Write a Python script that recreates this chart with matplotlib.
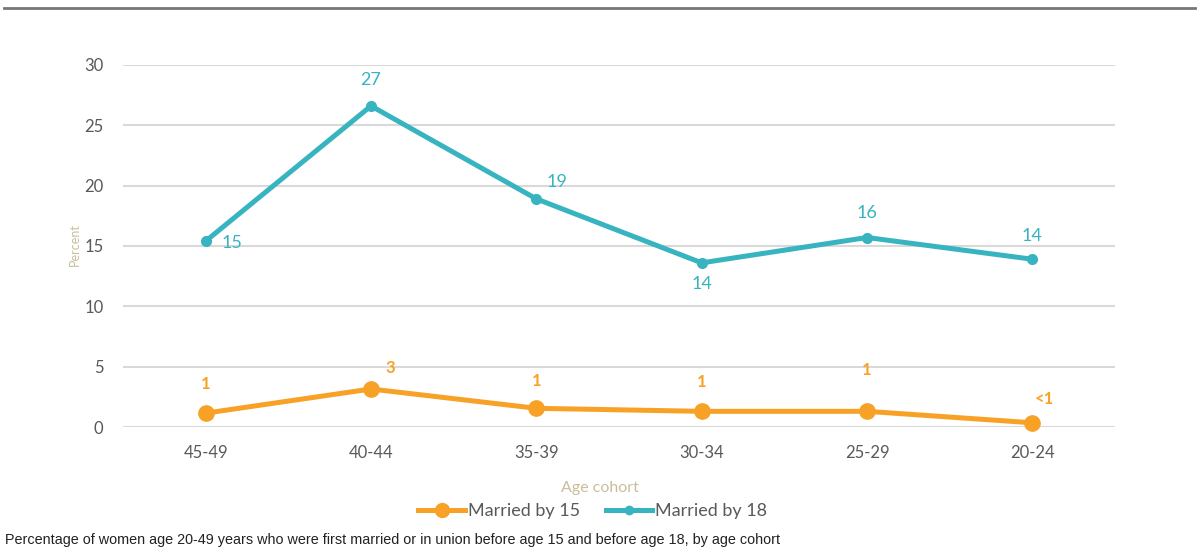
import numpy as np
import matplotlib
matplotlib.use("Agg")
import matplotlib.pyplot as plt
from matplotlib.lines import Line2D

plt.rcParams['font.family'] = ['Lato', 'DejaVu Sans']

cohorts = ['45-49', '40-44', '35-39', '30-34', '25-29', '20-24']
married_by_15 = [1.15, 3.15, 1.55, 1.3, 1.3, 0.35]
married_by_18 = [15.4, 26.6, 18.9, 13.6, 15.7, 13.9]
labels_15 = ['1', '3', '1', '1', '1', '<1']
labels_18 = ['15', '27', '19', '14', '16', '14']

orange = '#F7A226'
blue = '#38B4C1'
tan = '#C9BE9B'
grey = '#595959'

fig = plt.figure(figsize=(12, 5.5), dpi=100)
ax = fig.add_axes([0.1025, 0.2236, 0.8267, 0.6584])

x = np.arange(len(cohorts))
ax.plot(x, married_by_18, color=blue, lw=3.6, marker='o', ms=7, clip_on=False, zorder=3)
ax.plot(x, married_by_15, color=orange, lw=3.6, marker='o', ms=11, clip_on=False, zorder=3)

# data labels (offsets in points)
off_18 = [(19, -1), (0, 19), (15, 12), (0, -15), (0, 18), (0, 17)]
off_15 = [(0, 21), (14, 15), (0, 20), (0, 21), (0, 30), (9, 17)]
for i in range(len(x)):
    ax.annotate(labels_18[i], (x[i], married_by_18[i]), xytext=off_18[i],
                textcoords='offset points', ha='center', va='center',
                color=blue, fontsize=13)
    ax.annotate(labels_15[i], (x[i], married_by_15[i]), xytext=off_15[i],
                textcoords='offset points', ha='center', va='center',
                color=orange, fontsize=12, fontweight='bold')

ax.set_xlim(-0.5, 5.5)
ax.set_ylim(0, 30)
ax.set_yticks(range(0, 31, 5))
ax.set_xticks(x)
ax.set_xticklabels(cohorts)
ax.grid(axis='y', color='#D9D9D9', lw=1.5)
ax.set_axisbelow(True)
for s in ax.spines.values():
    s.set_visible(False)
ax.tick_params(length=0, colors=grey, labelsize=12, pad=14)
ax.tick_params(axis='x', pad=13)

fig.text(0.0625, 0.555, 'Percent', rotation=90, color=tan, fontsize=9,
         ha='center', va='center')
fig.text(0.5, 0.113, 'Age cohort', color=tan, fontsize=11.5, ha='center', va='center')

handles = [Line2D([], [], color=orange, lw=3.6, marker='o', ms=10),
           Line2D([], [], color=blue, lw=3.6, marker='o', ms=6)]
fig.legend(handles, ['Married by 15', 'Married by 18'], loc='center',
           bbox_to_anchor=(0.494, 0.071), ncol=2, frameon=False, fontsize=13,
           labelcolor=grey, handlelength=2.6, handletextpad=0.15, columnspacing=1.4)

fig.text(0.004, 0.018, 'Percentage of women age 20-49 years who were first married or in union '
         'before age 15 and before age 18, by age cohort',
         family=['Liberation Sans Narrow', 'Liberation Sans', 'DejaVu Sans'], fontsize=10.4,
         color='#222222', ha='left', va='center')

# top rule
fig.add_artist(Line2D([0.003, 0.996], [0.985, 0.985], color='#777777', lw=2))

fig.savefig('out.png', dpi=100)
